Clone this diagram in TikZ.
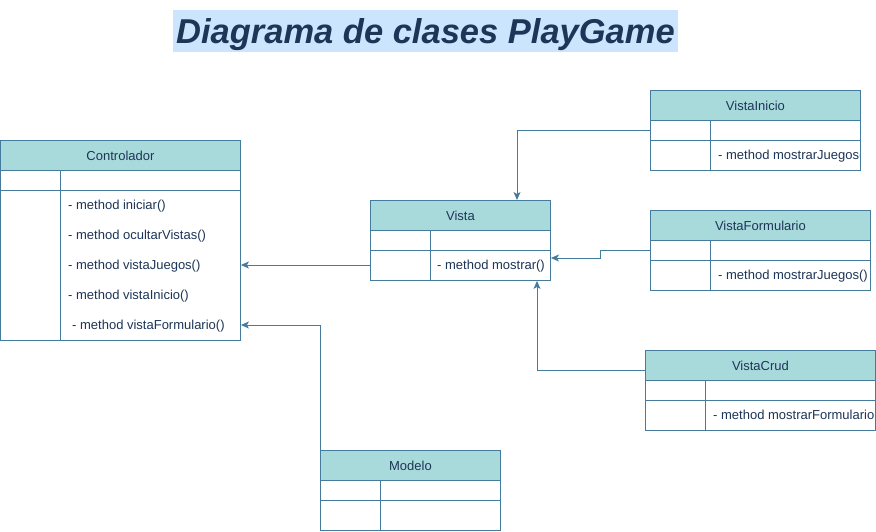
\documentclass[tikz,border=0pt]{standalone}
\usepackage{fontspec}
\setmainfont{Liberation Sans}
\usetikzlibrary{arrows.meta}
\definecolor{hdr}{HTML}{A8DADC}
\definecolor{strk}{HTML}{457B9D}
\definecolor{txt}{HTML}{1D3557}
\definecolor{titlebg}{HTML}{CCE5FF}
\tikzset{
  classbox/.style={draw=strk, line width=0.9pt, inner sep=0pt, fill=white},
  hdrbox/.style={draw=strk, line width=0.9pt, fill=hdr, inner sep=0pt, text=txt, font=\fontsize{13}{15}\selectfont},
  mtext/.style={anchor=west, inner sep=0pt, text=txt, font=\fontsize{13}{15}\selectfont, yshift=-1.5pt},
  conn/.style={draw=strk, line width=0.9pt, -{Stealth[length=8pt,width=7pt,inset=2pt]}},
  divline/.style={draw=strk, line width=0.9pt}
}
\newcommand\umlbox[7]{%
  \node[classbox, minimum width=#4pt, minimum height=#5pt, anchor=north west] (#1) at (#2,#3) {};
  \node[hdrbox, minimum width=#4pt, minimum height=30pt, anchor=north west] (#1-h) at (#2,#3) {#7};
  \draw[divline] (#2,#3+50) -- (#2+#4,#3+50);
  \draw[divline] (#2+#6,#3+30) -- (#2+#6,#3+#5);
}
\begin{document}
\begin{tikzpicture}[x=1pt,y=-1pt]
\useasboundingbox (0,0) rectangle (876,531);
% title
\node[fill=titlebg, inner sep=0pt, minimum width=505pt, minimum height=42pt, text=txt, text depth=0pt,
  font=\fontsize{34.5}{40}\selectfont\bfseries\itshape] (title) at (425.5,31) {Diagrama de clases PlayGame};

% classes
\umlbox{ctrl}{0}{140}{240}{200}{60}{Controlador}
\node[mtext] (m1) at (68,205) {- method iniciar()};
\node[mtext] (m2) at (68,235) {- method ocultarVistas()};
\node[mtext] (m3) at (68,265) {- method vistaJuegos()};
\node[mtext] (m4) at (68,295) {- method vistaInicio()};
\node[mtext] (m5) at (72,325) {- method vistaFormulario()};

\umlbox{vista}{370}{200}{180}{80}{60}{Vista}
\node[mtext] (vm) at (437,265) {- method mostrar()};

\umlbox{vinicio}{650}{90}{210}{80}{60}{VistaInicio}
\begin{scope}
\clip (711,141) rectangle (859.5,169);
\node[mtext] (vim) at (718,155) {- method mostrarJuegos()};
\end{scope}

\umlbox{vform}{650}{210}{220}{80}{60}{VistaFormulario}
\node[mtext] (vfm) at (718,275) {- method mostrarJuegos()};

\umlbox{vcrud}{645}{350}{230}{80}{60}{VistaCrud}
\begin{scope}
\clip (706,401) rectangle (874.5,429);
\node[mtext] (vcm) at (713,415) {- method mostrarFormulario()};
\end{scope}

\umlbox{modelo}{320}{450}{180}{80}{60}{Modelo}

% connectors
\coordinate (r1) at (0,265);
\coordinate (r2) at (0,325);
\draw[conn] (vista.west |- r1) -- (ctrl.east |- r1);
\draw[conn] (modelo.north west) -- (modelo.north west |- r2) -- (ctrl.east |- r2);
\coordinate (c1) at (517,130);
\draw[conn] (vinicio.west |- c1) -- (c1) -- (c1 |- vista.north);
\coordinate (c2) at (600,250);
\coordinate (c3) at (600,258);
\draw[conn] (vform.west |- c2) -- (c2) -- (c3) -- (vista.east |- c3);
\coordinate (c4) at (537,370);
\draw[conn] (vcrud.west |- c4) -- (c4) -- (c4 |- vista.south);
\end{tikzpicture}
\end{document}
